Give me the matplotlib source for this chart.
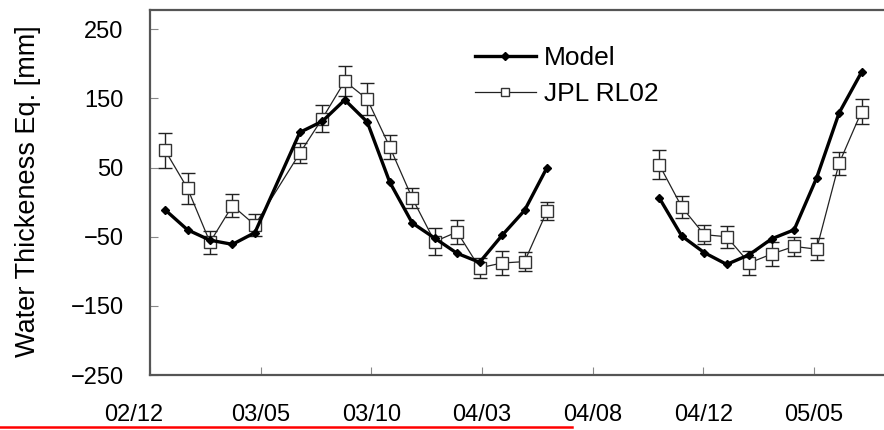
import numpy as np
import matplotlib
matplotlib.use("Agg")
import matplotlib.pyplot as plt
import matplotlib.transforms as mtransforms
from matplotlib.lines import Line2D

plt.rcParams['font.family'] = ['Liberation Sans', 'DejaVu Sans']

# month slots (0 = first GRACE month shown); gaps are missing months
month_idx = [0, 1, 2, 3, 4, 6, 7, 8, 9, 10, 11, 12, 13, 14, 15, 16, 17,
             22, 23, 24, 25, 26, 27, 28, 29, 30, 31]
model = [-11, -40, -55, -61, -44, 101, 117, 148, 116, 29, -30, -52, -74, -87, -48, -12, 50,
         6, -49, -73, -90, -76, -53, -40, 35, 129, 188]
jpl = [75, 20, -58, -5, -33, 71, 121, 175, 149, 80, 6, -57, -43, -95, -88, -86, -13,
       54, -7, -47, -50, -88, -75, -64, -68, 56, 131]
jpl_err = [25, 22, 17, 17, 16, 15, 20, 22, 23, 17, 14, 19, 17, 14, 18, 14, 13,
           21, 16, 14, 16, 18, 17, 14, 16, 16, 18]
tick_labels = ['02/12', '03/05', '03/10', '04/03', '04/08', '04/12', '05/05']


def with_breaks(x, *ys):
    # put a NaN where the record has a long gap so the line breaks
    x = np.asarray(x, dtype=float)
    cut = np.where(np.diff(x) > 2)[0] + 1
    out = [np.insert(x, cut, np.nan)]
    for y in ys:
        out.append(np.insert(np.asarray(y, dtype=float), cut, np.nan))
    return out


x, m, j, e = with_breaks(month_idx, model, jpl, jpl_err)

fig = plt.figure(figsize=(8.84, 4.30), dpi=100)
ax = fig.add_axes([150 / 884, 55 / 430, 734 / 884, 365 / 430])

ax.errorbar(x, j, yerr=e, color='#222222', lw=0.9, marker='s', ms=8,
            mfc='white', mec='#333333', mew=1.0, ecolor='#222222',
            elinewidth=1.0, capsize=5, capthick=1.0, zorder=2)
ax.plot(x, m, color='black', lw=2.4, marker='D', ms=4, zorder=3)

ax.set_xlim(-0.67, 32.0)
ax.set_ylim(-250, 278)
ax.set_yticks(np.arange(-250, 251, 100))
ax.set_xticks(np.arange(len(tick_labels)) * 4.925 - 0.67)
ax.set_xticklabels(tick_labels)

for s in ['left', 'bottom', 'top']:
    ax.spines[s].set_color('#555555')
    ax.spines[s].set_linewidth(1.6)
ax.spines['right'].set_visible(False)

ax.tick_params(axis='both', direction='in', length=6, width=0.8,
               color='#888888', labelsize=17)
ax.tick_params(axis='y', pad=19)
ax.tick_params(axis='x', pad=21)

# first date label sits a bit left of the axis corner
first = ax.get_xticklabels()[0]
first.set_transform(first.get_transform() +
                    mtransforms.ScaledTranslation(-16 / 100, 0, fig.dpi_scale_trans))

fig.text(28 / 884, 1 - 191 / 430, 'Water Thickeness Eq. [mm]', rotation=90,
         ha='center', va='center', fontsize=19.5)

handles = [
    Line2D([], [], color='black', lw=2.4, marker='D', ms=4),
    Line2D([], [], color='#222222', lw=0.9, marker='s', ms=6,
           mfc='white', mec='#333333'),
]
ax.legend(handles, ['Model', 'JPL RL02'], loc='upper left',
          bbox_to_anchor=(475 / 884, 1 - 46 / 430), bbox_transform=fig.transFigure,
          frameon=False, fontsize=19, handlelength=2.3, handletextpad=0.3,
          labelspacing=0.45, borderpad=0, borderaxespad=0)

# red highlight line along the bottom edge of the reference image
fig.add_artist(Line2D([0, 572 / 884], [3 / 430, 3 / 430], color='red', lw=1.8,
                      transform=fig.transFigure))

fig.savefig('out.png', dpi=100)
